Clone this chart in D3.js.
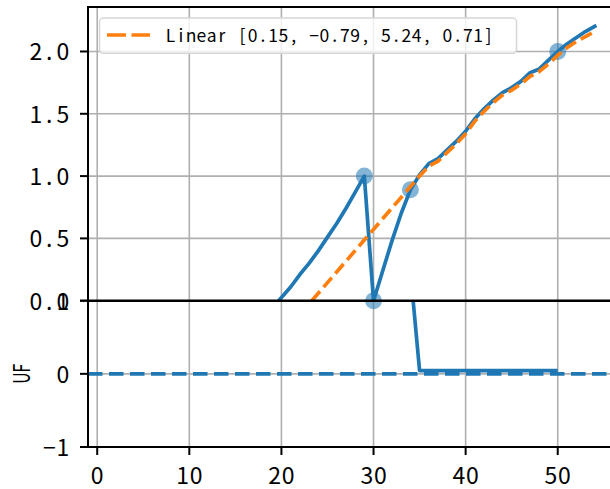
<!DOCTYPE html>
<html><head><meta charset="utf-8">
<script src="https://cdn.jsdelivr.net/npm/d3@7"></script>
<style>html,body{margin:0;padding:0;background:#fff;} svg{display:block;}</style>
</head><body><svg id="chart" width="610" height="489"></svg>
<script>
// ---------- data ----------
const topX = [19.7, 21, 22, 23, 24, 25, 26, 27, 28, 29, 30, 31, 32, 33, 34, 35, 36, 37, 38, 39, 40, 41, 42, 43, 44, 45, 46, 47, 48, 49, 50, 51, 52, 53, 54.2];
const topY = [0, 0.11, 0.21, 0.30, 0.40, 0.51, 0.62, 0.74, 0.87, 1.0, 0.0, 0.24, 0.48, 0.70, 0.89, 1.01, 1.10, 1.14, 1.21, 1.28, 1.36, 1.46, 1.54, 1.61, 1.67, 1.71, 1.76, 1.83, 1.86, 1.93, 2.0, 2.06, 2.11, 2.16, 2.21];
const fitX = [23.3, 35, 36, 37, 38, 39, 40, 41, 42, 43, 44, 45, 46, 47, 48, 49, 50, 51, 52, 53, 54];
const fitY = [0, 1.0, 1.08, 1.12, 1.19, 1.26, 1.34, 1.44, 1.52, 1.59, 1.65, 1.69, 1.74, 1.80, 1.84, 1.90, 1.97, 2.03, 2.08, 2.12, 2.16];
const markerX = [29, 30, 34, 50];
const markerY = [1.0, 0.0, 0.89, 2.0];
const ufX = [34, 35, 36, 37, 38, 39, 40, 41, 42, 43, 44, 45, 46, 47, 48, 49, 50];
const ufY = [1.41, 0.045, 0.045, 0.045, 0.045, 0.045, 0.045, 0.045, 0.045, 0.045, 0.045, 0.045, 0.045, 0.045, 0.045, 0.045, 0.045];
const ufRef = 0;
const xTicks = [0, 10, 20, 30, 40, 50];
const xTickLabels = ["0", "10", "20", "30", "40", "50"];
const topYTicks = [0, 0.5, 1.0, 1.5, 2.0];
const topYTickLabels = ["0.0", "0.5", "1.0", "1.5", "2.0"];
const ufYTicks = [-1, 0, 1];
const ufYTickLabels = ["\u22121", "0", "1"];
const legendLabel = "Linear [0.15, \u22120.79, 5.24, 0.71]";
const yLabel = "UF";

// ---------- layout ----------
const FONT = "'Noto Sans CJK JP', 'Noto Sans', sans-serif";
const L = 88, R = 613, T = 7, MID = 300.7, B = 447;
const BLUE = "#1f77b4", ORANGE = "#ff7f0e", GRID = "#b0b0b0";
const LW = 3.7;

const svg = d3.select("#chart");
const x = d3.scaleLinear().domain([-1, 56]).range([L, R]);
const yTop = d3.scaleLinear().domain([0, 2.357]).range([MID, T]);
const yBot = d3.scaleLinear().domain([-1, 1]).range([B, MID]);

const defs = svg.append("defs");
defs.append("clipPath").attr("id", "clipTop").append("rect")
  .attr("x", L).attr("y", T).attr("width", R - L).attr("height", MID - T);
defs.append("clipPath").attr("id", "clipBot").append("rect")
  .attr("x", L).attr("y", MID).attr("width", R - L).attr("height", B - MID);

// monospace-like text: each glyph centered in its own cell
function cellText(g, str, firstCenter, cell, y, size) {
  const chars = Array.from(str);
  const xs = chars.map((c, i) => (firstCenter + i * cell).toFixed(2));
  return g.append("text")
    .attr("x", xs.join(" ")).attr("y", y)
    .attr("text-anchor", "middle")
    .attr("font-family", FONT).attr("font-size", size)
    .attr("fill", "#000")
    .text(str);
}

// ---------- grid ----------
const grid = svg.append("g").attr("stroke", GRID).attr("stroke-width", 1.6);
xTicks.forEach(v => {
  grid.append("line").attr("x1", x(v)).attr("x2", x(v)).attr("y1", T).attr("y2", B);
});
topYTicks.forEach(v => {
  grid.append("line").attr("x1", L).attr("x2", R).attr("y1", yTop(v)).attr("y2", yTop(v));
});
ufYTicks.forEach(v => {
  grid.append("line").attr("x1", L).attr("x2", R).attr("y1", yBot(v)).attr("y2", yBot(v));
});

// ---------- top axes data ----------
const mk = svg.append("g");
markerX.forEach((v, i) => {
  mk.append("circle").attr("cx", x(v)).attr("cy", yTop(markerY[i])).attr("r", 8.5)
    .attr("fill", BLUE).attr("fill-opacity", 0.55);
});
const lineTop = d3.line().x(d => x(d[0])).y(d => yTop(d[1]));
svg.append("path").attr("clip-path", "url(#clipTop)")
  .attr("d", lineTop(topX.map((v, i) => [v, topY[i]])))
  .attr("fill", "none").attr("stroke", BLUE).attr("stroke-width", LW)
  .attr("stroke-linejoin", "round");
svg.append("path").attr("clip-path", "url(#clipTop)")
  .attr("d", lineTop(fitX.map((v, i) => [v, fitY[i]])))
  .attr("fill", "none").attr("stroke", ORANGE).attr("stroke-width", LW)
  .attr("stroke-dasharray", "12.5,5.5");

// ---------- bottom axes data ----------
svg.append("line").attr("clip-path", "url(#clipBot)")
  .attr("x1", L).attr("x2", R).attr("y1", yBot(ufRef)).attr("y2", yBot(ufRef))
  .attr("stroke", BLUE).attr("stroke-width", LW).attr("stroke-dasharray", "14.5,6.5");
const lineBot = d3.line().x(d => x(d[0])).y(d => yBot(d[1]));
svg.append("path").attr("clip-path", "url(#clipBot)")
  .attr("d", lineBot(ufX.map((v, i) => [v, ufY[i]])))
  .attr("fill", "none").attr("stroke", BLUE).attr("stroke-width", LW)
  .attr("stroke-linejoin", "round");

// ---------- spines & ticks ----------
const ax = svg.append("g").attr("stroke", "#000");
ax.append("line").attr("x1", L).attr("x2", L).attr("y1", T).attr("y2", B).attr("stroke-width", 2);
ax.append("line").attr("x1", L - 1).attr("x2", R + 5).attr("y1", T).attr("y2", T).attr("stroke-width", 2);
ax.append("line").attr("x1", L - 1).attr("x2", R + 5).attr("y1", MID).attr("y2", MID).attr("stroke-width", 2.6);
ax.append("line").attr("x1", L - 1).attr("x2", R + 5).attr("y1", B).attr("y2", B).attr("stroke-width", 2);

const TICK = 8, CELL = 13.5, TICKFS = 23;
const labels = svg.append("g");
topYTicks.forEach((v, i) => {
  const yy = yTop(v);
  ax.append("line").attr("x1", L - TICK).attr("x2", L).attr("y1", yy).attr("y2", yy).attr("stroke-width", 2);
  const s = topYTickLabels[i];
  const n = Array.from(s).length;
  cellText(labels, s, 62.8 - CELL * (n - 1), CELL, yy + 8.8, TICKFS);
});
ufYTicks.forEach((v, i) => {
  const yy = yBot(v);
  ax.append("line").attr("x1", L - TICK).attr("x2", L).attr("y1", yy).attr("y2", yy).attr("stroke-width", 2);
  const s = ufYTickLabels[i];
  const n = Array.from(s).length;
  cellText(labels, s, 62.8 - CELL * (n - 1), CELL, yy + 8.8, TICKFS);
});
xTicks.forEach((v, i) => {
  const xx = x(v);
  ax.append("line").attr("x1", xx).attr("x2", xx).attr("y1", B).attr("y2", B + TICK).attr("stroke-width", 2);
  const s = xTickLabels[i];
  const n = Array.from(s).length;
  cellText(labels, s, xx - CELL * (n - 1) / 2, CELL, 483.5, TICKFS);
});

// y label
labels.append("text")
  .attr("transform", `translate(29.5, ${(MID + B) / 2}) rotate(-90)`)
  .attr("text-anchor", "middle")
  .attr("font-family", FONT).attr("font-size", 23)
  .attr("textLength", 20).attr("lengthAdjust", "spacingAndGlyphs")
  .text(yLabel);

// ---------- legend ----------
const lg = svg.append("g");
lg.append("rect").attr("x", 99.5).attr("y", 18).attr("width", 417).attr("height", 35.3)
  .attr("rx", 4).attr("fill", "#fff").attr("fill-opacity", 0.8)
  .attr("stroke", "#d6d6d6").attr("stroke-width", 1.5);
lg.append("line").attr("x1", 107).attr("x2", 150).attr("y1", 35).attr("y2", 35)
  .attr("stroke", ORANGE).attr("stroke-width", LW).attr("stroke-dasharray", "19,5.5");
cellText(lg, legendLabel, 165.5 + 10.25 / 2, 10.25, 42, 17.5);
</script>
</body></html>
